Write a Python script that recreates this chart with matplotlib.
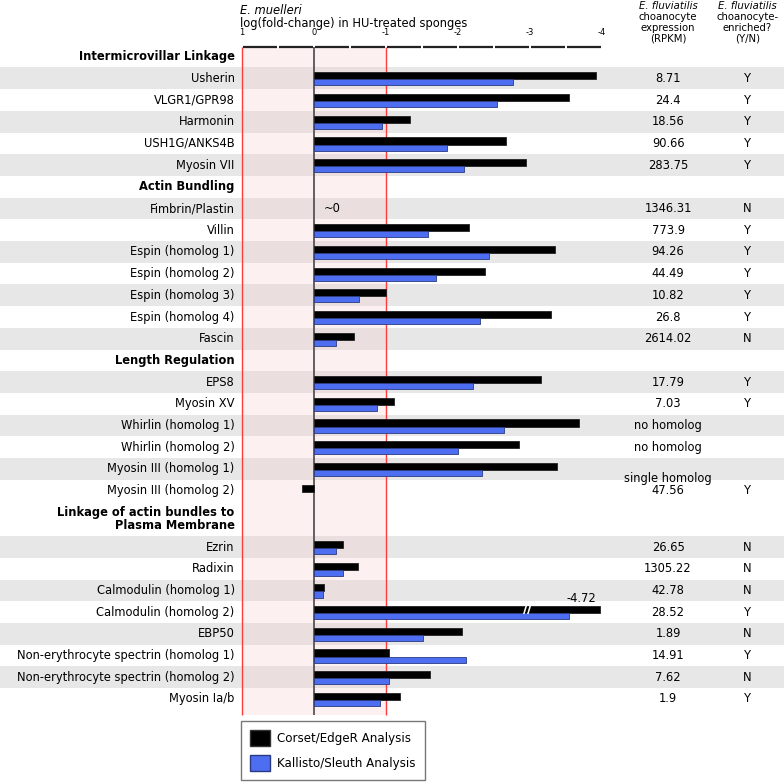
import numpy as np
import matplotlib.pyplot as plt
from matplotlib.patches import Patch

# data
sections = ["Intermicrovillar Linkage", "Actin Bundling", "Length Regulation",
            "Linkage of actin bundles to\nPlasma Membrane"]
section_sizes = [5, 7, 6, 8]
header_heights = [1, 1, 1, 1.6]

genes = ["Usherin", "VLGR1/GPR98", "Harmonin", "USH1G/ANKS4B", "Myosin VII",
         "Fimbrin/Plastin", "Villin", "Espin (homolog 1)", "Espin (homolog 2)",
         "Espin (homolog 3)", "Espin (homolog 4)", "Fascin",
         "EPS8", "Myosin XV", "Whirlin (homolog 1)", "Whirlin (homolog 2)",
         "Myosin III (homolog 1)", "Myosin III (homolog 2)",
         "Ezrin", "Radixin", "Calmodulin (homolog 1)", "Calmodulin (homolog 2)",
         "EBP50", "Non-erythrocyte spectrin (homolog 1)",
         "Non-erythrocyte spectrin (homolog 2)", "Myosin Ia/b"]

corset = [-3.92, -3.55, -1.34, -2.67, -2.94,
          0.0, -2.15, -3.35, -2.37, -1.00, -3.29, -0.56,
          -3.16, -1.11, -3.68, -2.85, -3.38, 0.16,
          -0.40, -0.61, -0.14, -4.72, -2.06, -1.04, -1.61, -1.19]
kallisto = [-2.77, -2.55, -0.94, -1.85, -2.09,
            0.0, -1.59, -2.43, -1.70, -0.63, -2.31, -0.31,
            -2.21, -0.88, -2.64, -2.00, -2.33, 0.0,
            -0.31, -0.40, -0.12, -3.54, -1.51, -2.11, -1.04, -0.92]

rpkm = ["8.71", "24.4", "18.56", "90.66", "283.75",
        "1346.31", "773.9", "94.26", "44.49", "10.82", "26.8", "2614.02",
        "17.79", "7.03", "no homolog", "no homolog", "", "47.56",
        "26.65", "1305.22", "42.78", "28.52", "1.89", "14.91", "7.62", "1.9"]
enriched = ["Y", "Y", "Y", "Y", "Y",
            "N", "Y", "Y", "Y", "Y", "Y", "N",
            "Y", "Y", "", "", "", "Y",
            "N", "N", "N", "Y", "N", "Y", "N", "Y"]

xticks = [1, 0, -1, -2, -3, -4]
axis_min = -3.97

black = "#000000"
blue = "#4d6ef0"
grey = "#e7e7e7"
fs = 8.3
fs_col = 7.3

fig = plt.figure(figsize=(7.84, 7.82), dpi=100)
ax = fig.add_axes([0, 0, 1, 1])
ax.axis("off")
ax.set_xlim(4.36, -6.53)
ax.set_ylim(33.43, -2.61)

# row layout
gene_y = []
header_y = []
shaded = []
cursor = 0.0
for s, n in enumerate(section_sizes):
    h = header_heights[s]
    header_y.append(cursor + (h - 1) / 2)
    cursor += h
    for k in range(n):
        gene_y.append(cursor)
        shaded.append(k % 2 == 0)
        cursor += 1
gene_y = np.array(gene_y)

for y, sh in zip(gene_y, shaded):
    if sh:
        ax.axhspan(y - 0.5, y + 0.5, color=grey, zorder=0, lw=0)

y_top = -0.44
y_bot = gene_y[-1] + 0.75
ax.fill_betweenx([y_top, y_bot], 1, -1, color="#f4c4c4", alpha=0.25, lw=0, zorder=1)
ax.vlines([1, -1], y_top, y_bot, color="#ff3b3b", lw=1, zorder=4)
ax.vlines(0, y_top, y_bot, color="#555555", lw=1.3, zorder=4)

# top axis
starts = np.arange(1, -4, -0.5)
ax.hlines(np.full(len(starts), y_top), starts - 0.02, starts - 0.49,
          color="#222222", lw=1.6, zorder=5)
for v in xticks:
    ax.text(v, y_top - 0.65, str(v), ha="center", va="center", fontsize=6)
ax.text(1.03, -2.14, "E. muelleri", ha="left", va="center", fontsize=fs, style="italic")
ax.text(1.03, -1.54, "log(fold-change) in HU-treated sponges", ha="left",
        va="center", fontsize=fs)

# bars (zero values are not drawn)
c_arr = np.array(corset)
k_arr = np.array(kallisto)
mc = c_arr != 0
mk = k_arr != 0
c_show = np.maximum(c_arr, axis_min)
ax.barh(gene_y[mc] - 0.115, c_show[mc], height=0.33, color=black,
        edgecolor="#222222", lw=0.6, zorder=6)
ax.barh(gene_y[mk] + 0.19, k_arr[mk], height=0.28, color=blue,
        edgecolor="#2a3a80", lw=0.6, zorder=6)

# broken bar
ib = int(np.argmin(c_arr))
ax.text(-3.0, gene_y[ib] - 0.15, "/", ha="center", va="center", color="white",
        fontsize=11, fontweight="bold", zorder=7)
ax.text(-2.94, gene_y[ib] - 0.15, "/", ha="center", va="center", color="white",
        fontsize=11, fontweight="bold", zorder=7)
ax.text(axis_min + 0.25, gene_y[ib] - 0.65, "%.2f" % corset[ib], ha="center",
        va="center", fontsize=fs, zorder=7)
ax.text(-0.25, gene_y[genes.index("Fimbrin/Plastin")], "~0", ha="center",
        va="center", fontsize=fs, zorder=7)

# labels
lab_x = 1.1
for y, g in zip(gene_y, genes):
    ax.text(lab_x, y, g, ha="right", va="center", fontsize=fs)
for y, s in zip(header_y, sections):
    ax.text(lab_x, y, s, ha="right", va="center", fontsize=fs, fontweight="bold",
            linespacing=1.0)

col1 = -4.92
col2 = -6.02
for y, r, e in zip(gene_y, rpkm, enriched):
    ax.text(col1, y, r, ha="center", va="center", fontsize=fs)
    ax.text(col2, y, e, ha="center", va="center", fontsize=fs)
im3 = genes.index("Myosin III (homolog 1)")
ax.text(col1, gene_y[im3] + 0.42, "single homolog", ha="center", va="center", fontsize=fs)

hdr1 = ["choanocyte", "expression", "(RPKM)"]
hdr2 = ["choanocyte-", "enriched?", "(Y/N)"]
for col, lines in [(col1, hdr1), (col2, hdr2)]:
    ax.text(col, -2.32, "E. fluviatilis", ha="center", va="center", fontsize=fs_col,
            style="italic")
    for k, t in enumerate(lines):
        ax.text(col, -1.82 + 0.5 * k, t, ha="center", va="center", fontsize=fs_col)

handles = [Patch(facecolor=black, edgecolor="#333333"),
           Patch(facecolor=blue, edgecolor="#2a3a80")]
leg = ax.legend(handles, ["Corset/EdgeR Analysis", "Kallisto/Sleuth Analysis"],
                loc="lower left", bbox_to_anchor=(0.307, 0.002),
                bbox_transform=fig.transFigure, fontsize=8.6, fancybox=False,
                edgecolor="#777777", framealpha=1, handlelength=1.7,
                handleheight=1.7, labelspacing=0.75, borderpad=0.75,
                handletextpad=0.6, borderaxespad=0)
leg.get_frame().set_linewidth(1.0)

fig.savefig("out.png", dpi=100)
